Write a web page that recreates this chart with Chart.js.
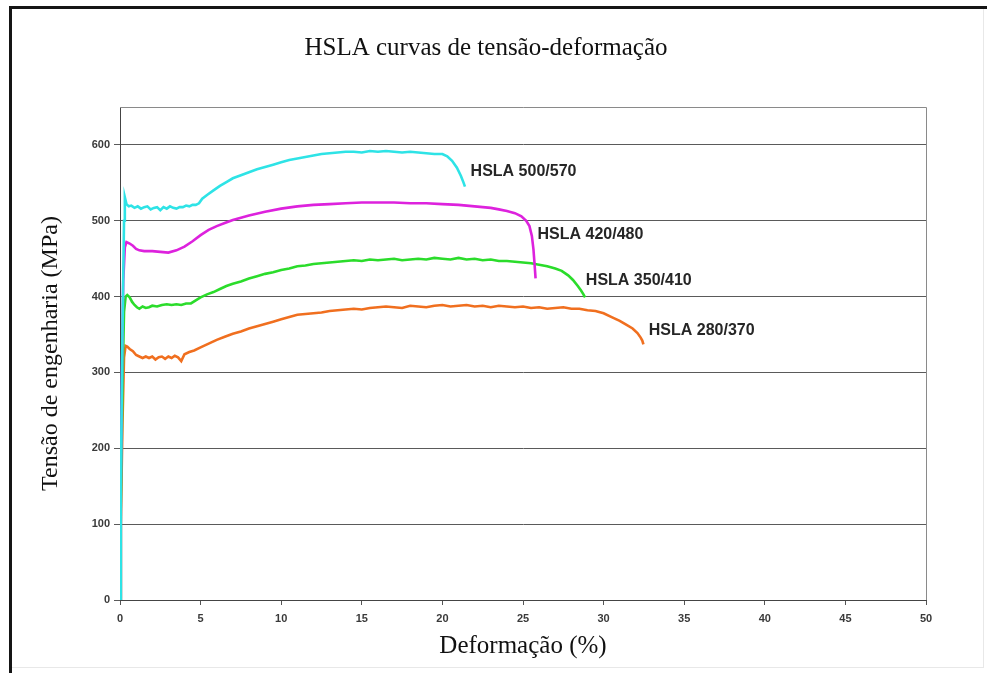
<!DOCTYPE html>
<html lang="pt">
<head>
<meta charset="utf-8">
<title>HSLA curvas de tensão-deformação</title>
<script src="https://cdn.jsdelivr.net/npm/chart.js@4.4.1/dist/chart.umd.min.js"></script>
<style>
  html, body { margin: 0; padding: 0; background: #fff; }
  #wrap { position: relative; width: 987px; height: 673px; overflow: hidden; background: #fff; }
  #frame { position: absolute; left: 9px; top: 6px; width: 1000px; height: 700px;
           border-left: 3px solid #151515; border-top: 3px solid #151515; box-sizing: border-box; }
  #frameEdge { position: absolute; left: 12px; top: 9px; width: 972px; height: 659px;
               border-right: 1px solid #e8e8e8; border-bottom: 1px solid #e8e8e8; box-sizing: border-box; }
  canvas { position: absolute; left: 0; top: 0; }
</style>
</head>
<body>
<div id="wrap">
  <div id="frame"></div>
  <div id="frameEdge"></div>
  <canvas id="chart" width="987" height="673"></canvas>
</div>
<script>
// Engineering stress-strain curves for four HSLA steel grades
// strain in %, stress in MPa

const seriesNames = ['HSLA 500/570', 'HSLA 420/480', 'HSLA 350/410', 'HSLA 280/370'];

const strain500 = [0, 0.05, 0.15, 0.25, 0.3, 0.4, 0.55, 0.7, 0.9, 1.1, 1.3, 1.5, 1.7, 1.9, 2.1, 2.3, 2.5, 2.7, 2.9, 3.1, 3.3, 3.5, 3.7, 3.9, 4.1, 4.3, 4.5, 4.7, 4.9, 5.1, 5.4, 5.8, 6.2, 6.6, 7.0, 7.5, 8.0, 8.5, 9.0, 9.5, 10, 10.5, 11, 11.5, 12, 12.5, 13, 13.5, 14, 14.5, 15, 15.5, 16, 16.5, 17, 17.5, 18, 18.5, 19, 19.5, 20, 20.3, 20.6, 20.9, 21.15, 21.3, 21.4];
const stress500 = [0, 150, 350, 500, 531, 522, 519, 520, 517, 519, 516, 518, 519, 515, 517, 518, 514, 518, 516, 519, 517, 516, 518, 518, 520, 519, 521, 521, 523, 529, 534, 540, 546, 551, 556, 560, 564, 568, 571, 574, 577, 580, 582, 584, 586, 588, 589, 590, 591, 591, 590, 592, 591, 592, 591, 590, 591, 590, 589, 588, 588, 585, 579, 570, 559, 551, 545];

const strain420 = [0, 0.05, 0.12, 0.2, 0.3, 0.4, 0.6, 0.8, 1.0, 1.2, 1.5, 2.0, 2.5, 3.0, 3.5, 4.0, 4.5, 5.0, 5.5, 6.0, 6.5, 7.0, 7.5, 8.0, 9.0, 10, 11, 12, 13, 14, 15, 16, 17, 18, 19, 20, 21, 22, 23, 23.5, 24, 24.5, 24.9, 25.2, 25.4, 25.55, 25.65, 25.72, 25.78];
const stress420 = [0, 150, 300, 420, 465, 472, 470, 467, 463, 461, 460, 460, 459, 458, 461, 466, 473, 481, 488, 493, 497, 501, 504, 507, 512, 516, 519, 521, 522, 523, 524, 524, 524, 523, 523, 522, 521, 519, 517, 515, 513, 510, 506, 500, 493, 480, 462, 442, 424];

const strain350 = [0, 0.05, 0.15, 0.25, 0.35, 0.45, 0.6, 0.75, 0.9, 1.05, 1.2, 1.4, 1.6, 1.8, 2.0, 2.3, 2.6, 2.9, 3.2, 3.5, 3.8, 4.1, 4.4, 4.7, 5.0, 5.4, 5.8, 6.2, 6.6, 7.0, 7.5, 8.0, 8.5, 9.0, 9.5, 10, 10.5, 11, 11.5, 12, 12.5, 13, 13.5, 14, 14.5, 15, 15.5, 16, 16.5, 17, 17.5, 18, 18.5, 19, 19.5, 20, 20.5, 21, 21.5, 22, 22.5, 23, 23.5, 24, 24.5, 25, 25.5, 26, 26.5, 27, 27.4, 27.8, 28.1, 28.4, 28.6, 28.75, 28.85];
const stress350 = [0, 120, 280, 380, 400, 402, 399, 393, 389, 386, 384, 387, 385, 386, 388, 387, 389, 390, 389, 390, 389, 391, 391, 395, 399, 403, 406, 410, 414, 417, 420, 424, 427, 430, 432, 435, 437, 440, 441, 443, 444, 445, 446, 447, 448, 447, 449, 448, 449, 450, 448, 449, 450, 449, 451, 450, 449, 451, 449, 450, 448, 449, 447, 447, 446, 445, 444, 442, 440, 437, 434, 428, 422, 414, 408, 403, 399];

const strain280 = [0, 0.05, 0.15, 0.25, 0.35, 0.45, 0.6, 0.8, 1.0, 1.2, 1.4, 1.6, 1.8, 2.0, 2.2, 2.4, 2.6, 2.8, 3.0, 3.2, 3.4, 3.6, 3.8, 4.0, 4.3, 4.6, 5.0, 5.5, 6.0, 6.5, 7.0, 7.5, 8.0, 8.5, 9.0, 9.5, 10, 10.5, 11, 11.5, 12, 12.5, 13, 13.5, 14, 14.5, 15, 15.5, 16, 16.5, 17, 17.5, 18, 18.5, 19, 19.5, 20, 20.5, 21, 21.5, 22, 22.5, 23, 23.5, 24, 24.5, 25, 25.5, 26, 26.5, 27, 27.5, 28, 28.5, 29, 29.5, 30, 30.5, 31, 31.4, 31.8, 32.1, 32.3, 32.4, 32.47];
const stress280 = [0, 100, 230, 320, 335, 334, 331, 328, 323, 321, 319, 321, 319, 321, 317, 320, 321, 318, 321, 319, 322, 320, 315, 324, 327, 329, 333, 338, 343, 347, 351, 354, 358, 361, 364, 367, 370, 373, 376, 377, 378, 379, 381, 382, 383, 384, 383, 385, 386, 387, 386, 385, 388, 387, 386, 388, 389, 387, 388, 389, 387, 388, 386, 388, 387, 386, 387, 385, 386, 384, 385, 386, 384, 384, 382, 381, 378, 373, 368, 363, 358, 352, 346, 342, 337];

const xTicks = [0, 5, 10, 15, 20, 25, 30, 35, 40, 45, 50];
const yTicks = [0, 100, 200, 300, 400, 500, 600];

// where each grade name is written, in axis units (strain %, stress MPa)
const labelStrain = [21.75, 25.9, 28.9, 32.8];
const labelStress = [565, 482, 421, 355];

const lineColors = ['#2ee3e6', '#dd22dd', '#2bdc2b', '#f06f1f'];

function toPoints(xs, ys) {
  return xs.map((x, i) => ({ x: x, y: ys[i] }));
}

const curves = [
  toPoints(strain500, stress500),
  toPoints(strain420, stress420),
  toPoints(strain350, stress350),
  toPoints(strain280, stress280)
];

// grey box on the top and right of the plot area
const plotBox = {
  id: 'plotBox',
  beforeDatasetsDraw(chart) {
    const a = chart.chartArea;
    const ctx = chart.ctx;
    ctx.save();
    ctx.strokeStyle = '#8a8a8a';
    ctx.lineWidth = 1;
    ctx.beginPath();
    ctx.moveTo(a.left, a.top + 0.5);
    ctx.lineTo(a.right + 0.5, a.top + 0.5);
    ctx.lineTo(a.right + 0.5, a.bottom);
    ctx.stroke();
    ctx.restore();
  }
};

// grade names written beside the end of each curve
const curveLabels = {
  id: 'curveLabels',
  afterDatasetsDraw(chart) {
    const ctx = chart.ctx;
    const xs = chart.scales.x, ys = chart.scales.y;
    ctx.save();
    ctx.font = 'bold 16px "Liberation Sans", Arial, sans-serif';
    ctx.fillStyle = '#262626';
    ctx.textAlign = 'left';
    ctx.textBaseline = 'middle';
    seriesNames.forEach((name, i) => {
      ctx.fillText(name, xs.getPixelForValue(labelStrain[i]), ys.getPixelForValue(labelStress[i]));
    });
    ctx.restore();
  }
};

const tickFont = { family: '"Liberation Sans", Arial, sans-serif', size: 11, weight: 'bold' };
const serifFont = { family: '"Liberation Serif", "Times New Roman", serif', size: 25, weight: 'normal' };
const serifFontY = { family: '"Liberation Serif", "Times New Roman", serif', size: 24, weight: 'normal' };

new Chart(document.getElementById('chart'), {
  type: 'line',
  data: {
    datasets: curves.map((pts, i) => ({
      label: seriesNames[i],
      data: pts,
      borderColor: lineColors[i],
      backgroundColor: lineColors[i],
      borderWidth: 2.6,
      pointRadius: 0,
      tension: 0,
      fill: false
    }))
  },
  options: {
    responsive: false,
    animation: false,
    devicePixelRatio: 1,
    layout: { padding: { left: 0, top: 0, right: 15, bottom: 0 } },
    plugins: {
      legend: { display: false },
      tooltip: { enabled: false },
      title: {
        display: true,
        text: 'HSLA curvas de tensão-deformação',
        color: '#111',
        font: serifFont,
        padding: { top: 33, bottom: 44 }
      }
    },
    scales: {
      x: {
        type: 'linear',
        min: 0,
        max: 50,
        afterBuildTicks(scale) { scale.ticks = xTicks.map(v => ({ value: v })); },
        afterFit(scale) { scale.height = 73; },
        grid: { display: true, drawOnChartArea: false, drawTicks: true, tickLength: 5, color: '#555' },
        border: { display: true, color: '#444', width: 1 },
        ticks: { color: '#3a3a3a', font: tickFont, padding: 7, maxRotation: 0 },
        title: {
          display: true,
          text: 'Deformação (%)',
          color: '#111',
          font: serifFont,
          padding: { top: 0, bottom: 12 }
        }
      },
      y: {
        type: 'linear',
        min: 0,
        max: 650,
        afterBuildTicks(scale) { scale.ticks = yTicks.map(v => ({ value: v })); },
        afterFit(scale) { scale.width = 120; },
        grid: { display: true, drawOnChartArea: true, drawTicks: true, tickLength: 6, color: '#5a5a5a', lineWidth: 1 },
        border: { display: true, color: '#444', width: 1 },
        ticks: { color: '#3a3a3a', font: tickFont, padding: 4 },
        title: {
          display: true,
          text: 'Tensão de engenharia (MPa)',
          color: '#111',
          font: serifFontY,
          padding: { top: 36, bottom: 0 }
        }
      },
      // empty margin on the right of the plot
      yRight: {
        type: 'linear',
        position: 'right',
        min: 0,
        max: 650,
        display: true,
        afterFit(scale) { scale.width = 46; },
        grid: { display: false, drawTicks: false },
        border: { display: false },
        ticks: { display: false }
      }
    }
  },
  plugins: [plotBox, curveLabels]
});
</script>
</body>
</html>
